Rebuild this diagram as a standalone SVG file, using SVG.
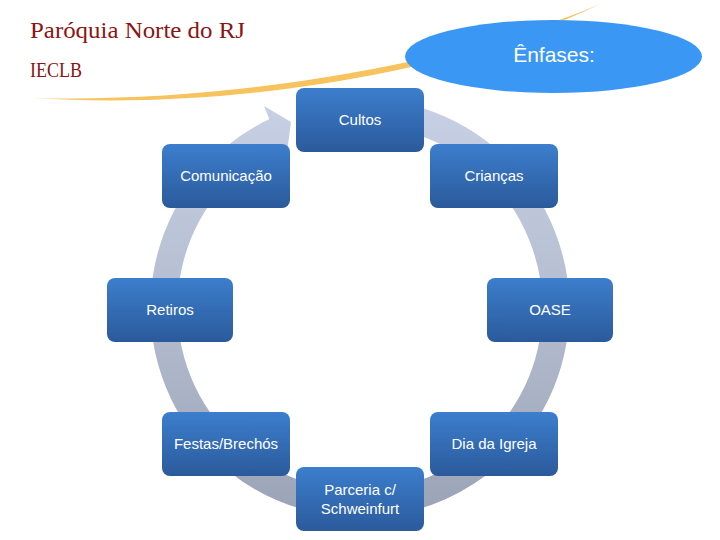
<svg xmlns="http://www.w3.org/2000/svg" width="720" height="540" viewBox="0 0 720 540">
<defs>
<linearGradient id="ringG" gradientUnits="userSpaceOnUse" x1="0" y1="100" x2="0" y2="520">
<stop offset="0" stop-color="#c8d0e5"/>
<stop offset="0.5" stop-color="#b4bcd0"/>
<stop offset="1" stop-color="#9aa3b6"/>
</linearGradient>
<linearGradient id="boxG" x1="0" y1="0" x2="0" y2="1">
<stop offset="0" stop-color="#3c7ecd"/>
<stop offset="1" stop-color="#2b5a9b"/>
</linearGradient>
<style>
.box{fill:url(#boxG);}
.lbl{font-family:"Liberation Sans",Arial,sans-serif;font-size:15px;fill:#ffffff;text-anchor:middle;}
.title{font-family:"Liberation Serif","Times New Roman",serif;fill:#8b1414;}
</style>
</defs>
<rect width="720" height="540" fill="#ffffff"/>
<g id="header">
<text class="title" x="30" y="38" font-size="23" textLength="215" lengthAdjust="spacingAndGlyphs">Paróquia Norte do RJ</text>
<text class="title" x="30" y="77" font-size="20" textLength="52" lengthAdjust="spacingAndGlyphs">IECLB</text>
<path d="M33,98 C250,104 480,56 600,4 C480,64 250,112 33,98 Z" fill="#f6c35e"/>
</g>
<g id="enfases">
<ellipse cx="553.5" cy="56.5" rx="148.5" ry="36.5" fill="#3a98f4"/>
<text x="554" y="62" font-family="Liberation Sans,Arial,sans-serif" font-size="21" fill="#ffffff" text-anchor="middle">Ênfases:</text>
</g>
<g id="connectors">
<path d="M410.7,118.7 A196,196 0 1 1 278.7,129.6" fill="none" stroke="url(#ringG)" stroke-width="27"/>
<polygon points="264,106 291,122 286,160" fill="url(#ringG)"/>
</g>
<g id="n-cultos"><rect class="box" x="296" y="88" width="128" height="64" rx="8"/><text class="lbl" x="360" y="124.5">Cultos</text></g>
<g id="n-comunicacao"><rect class="box" x="162" y="144" width="128" height="64" rx="8"/><text class="lbl" x="226" y="181">Comunicação</text></g>
<g id="n-criancas"><rect class="box" x="430" y="144" width="128" height="64" rx="8"/><text class="lbl" x="494" y="181">Crianças</text></g>
<g id="n-retiros"><rect class="box" x="107" y="278" width="126" height="64" rx="8"/><text class="lbl" x="170" y="315">Retiros</text></g>
<g id="n-oase"><rect class="box" x="487" y="278" width="126" height="64" rx="8"/><text class="lbl" x="550" y="315">OASE</text></g>
<g id="n-festas"><rect class="box" x="162" y="412" width="128" height="64" rx="8"/><text class="lbl" x="226" y="449">Festas/Brechós</text></g>
<g id="n-dia"><rect class="box" x="430" y="412" width="128" height="64" rx="8"/><text class="lbl" x="494" y="449">Dia da Igreja</text></g>
<g id="n-parceria"><rect class="box" x="296" y="467" width="128" height="64" rx="8"/><text class="lbl" x="360" y="495">Parceria c/</text><text class="lbl" x="360" y="514">Schweinfurt</text></g>
</svg>
